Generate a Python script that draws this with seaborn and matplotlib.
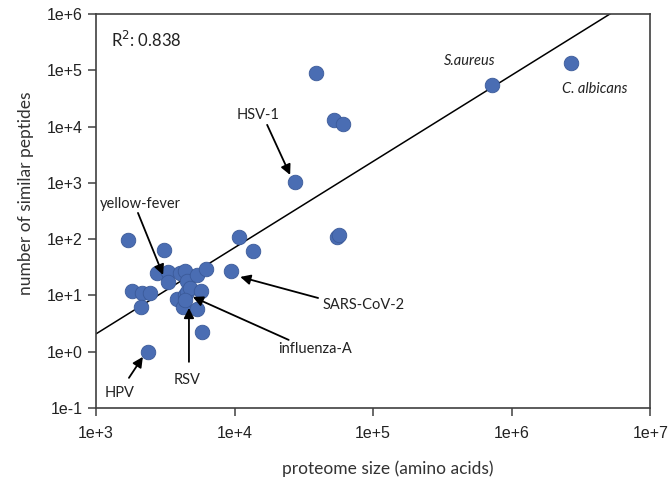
import numpy as np
import pandas as pd
import seaborn as sns
import matplotlib.pyplot as plt

# proteome size (amino acids) and number of similar peptides
proteome_size = [1.70e3, 3.10e3, 2.37e3, 5.82e3, 1.08e4, 1.36e4, 9.4e3, 5.5e4, 5.7e4,
                 2.73e4, 3.87e4, 5.2e4, 6.1e4, 7.2e5, 2.7e6,
                 2.77e3, 3.33e3, 3.30e3, 4.04e3, 4.39e3, 4.52e3, 5.34e3, 6.22e3,
                 1.83e3, 2.14e3, 2.45e3, 2.10e3, 3.83e3, 4.39e3, 4.52e3, 4.78e3,
                 5.73e3, 4.27e3, 5.34e3, 4.39e3]
similar_peptides = [97, 64, 1.0, 2.2, 110, 62, 27, 110, 120,
                    1040, 9.0e4, 1.3e4, 1.1e4, 5.5e4, 1.35e5,
                    25, 26.5, 17.6, 25, 27.6, 18.1, 23, 29,
                    12.2, 10.9, 10.9, 6.3, 8.7, 10.2, 11.7, 13.4,
                    12.2, 6.3, 5.8, 8.3]

# trend line (log10 space)
fit_y_at_1e3 = 2.07
fit_slope = 1.532
r_squared = 0.838

# labelled organisms: label position, arrow tail, arrow head
labels = ['HSV-1', 'yellow-fever', 'SARS-CoV-2', 'influenza-A', 'RSV', 'HPV']
label_xy = [(1.48e4, 1.61e4), (2.08e3, 422), (4.35e4, 6.78), (2.06e4, 1.10),
            (4.54e3, 0.315), (1.49e3, 0.185)]
label_ha = ['center', 'center', 'left', 'left', 'center', 'center']
tail_xy = [(1.72e4, 1.07e4), (2.01e3, 292), (4.01e4, 9.0), (2.46e4, 1.62),
           (4.69e3, 0.66), (1.73e3, 0.343)]
head_xy = [(2.52e4, 1.38e3), (3.05e3, 23.1), (1.10e4, 21.3), (5.0e3, 9.4),
           (4.69e3, 6.0), (2.18e3, 0.81)]

df = pd.DataFrame({'size': proteome_size, 'peptides': similar_peptides})

sns.set_style('white')
plt.rcParams['font.family'] = ['Liberation Sans', 'DejaVu Sans']

fig = plt.figure(figsize=(6.71, 4.8), dpi=100)
ax = fig.add_axes([0.143, 0.15, 0.826, 0.821])

ax.set_xscale('log')
ax.set_yscale('log')
ax.set_xlim(1e3, 1e7)
ax.set_ylim(1e-1, 1e6)

# regression line
xs = np.array([1e3, 1e7])
ys = fit_y_at_1e3 * (xs / 1e3) ** fit_slope
ax.plot(xs, ys, color='black', lw=1.1, zorder=2)

sns.scatterplot(data=df, x='size', y='peptides', ax=ax, s=110,
                color='#4a6db3', edgecolor='#3b5a99', linewidth=0.6, zorder=3)

xticks = [1e3, 1e4, 1e5, 1e6, 1e7]
yticks = [1e-1, 1e0, 1e1, 1e2, 1e3, 1e4, 1e5, 1e6]
ax.set_xticks(xticks)
ax.set_xticklabels(['1e+3', '1e+4', '1e+5', '1e+6', '1e+7'])
ax.set_yticks(yticks)
ax.set_yticklabels(['1e-1', '1e+0', '1e+1', '1e+2', '1e+3', '1e+4', '1e+5', '1e+6'])
ax.minorticks_off()
ax.tick_params(axis='both', direction='out', length=6, width=1.1, colors='#404040',
               labelsize=11.5, labelcolor='#222222', bottom=True, left=True)
ax.tick_params(axis='x', pad=7)

for sp in ax.spines.values():
    sp.set_color('#404040')
    sp.set_linewidth(1.2)

lab_font = ['Lato', 'DejaVu Sans']
ax.set_xlabel('proteome size (amino acids)', fontsize=12.5, family=lab_font,
              color='#333333')
ax.set_ylabel('number of similar peptides', fontsize=12.5, family=lab_font,
              color='#333333')
ax.xaxis.set_label_coords(0.527, -0.132)
ax.yaxis.set_label_coords(-0.112, 0.546)

ax.text(0.028, 0.915, 'R$^2$: %.3f' % r_squared, transform=ax.transAxes,
        fontsize=12, family=lab_font, color='#222222')

ax.text(5.0e5, 1.46e5, 'S.aureus', fontsize=10.5, style='italic', family=lab_font,
        ha='center', va='center', color='#222222')
ax.text(4.0e6, 4.65e4, 'C. albicans', fontsize=10.5, style='italic', family=lab_font,
        ha='center', va='center', color='#222222')

arrow = dict(arrowstyle='-|>', color='black', lw=1.3, mutation_scale=15,
             shrinkA=0, shrinkB=0)
for name, pos, ha, tail, head in zip(labels, label_xy, label_ha, tail_xy, head_xy):
    ax.text(pos[0], pos[1], name, ha=ha, va='center', fontsize=10.5,
            family=lab_font, color='#222222')
    ax.annotate('', xy=head, xytext=tail, arrowprops=arrow)

fig.savefig('out.png', dpi=100)
